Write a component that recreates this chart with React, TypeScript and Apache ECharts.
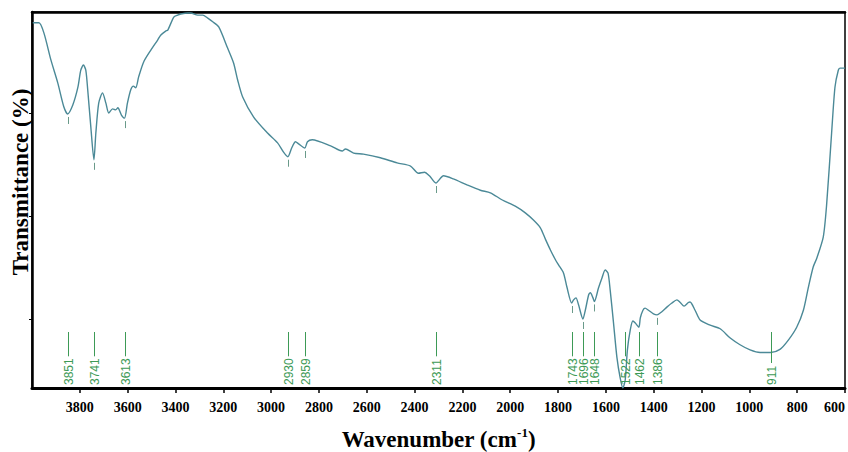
import React, { useEffect, useRef } from 'react';
import * as echarts from 'echarts';

const WAVENUMBER = [
  3997, 3971, 3950, 3921, 3892, 3867, 3851, 3829, 3808, 3796,
  3785, 3775, 3767, 3754, 3741, 3733, 3721, 3705, 3691, 3679,
  3663, 3650, 3641, 3626, 3613, 3601, 3587, 3576, 3566, 3554,
  3533, 3503, 3474, 3462, 3441, 3432, 3407, 3391, 3378, 3349,
  3336, 3307, 3286, 3265, 3244, 3219, 3182, 3157, 3140, 3119,
  3073, 3015, 2973, 2948, 2930, 2914, 2898, 2885, 2859, 2848,
  2828, 2751, 2703, 2689, 2655, 2614, 2543, 2473, 2417, 2384,
  2359, 2338, 2311, 2279, 2238, 2179, 2125, 2083, 2033, 1979,
  1937, 1903, 1874, 1853, 1832, 1811, 1798, 1777, 1763, 1743,
  1735, 1725, 1714, 1696, 1686, 1672, 1665, 1654, 1648, 1631,
  1616, 1603, 1591, 1582, 1568, 1554, 1540, 1529, 1519, 1510,
  1498, 1487, 1477, 1462, 1456, 1445, 1436, 1422, 1401, 1386,
  1366, 1345, 1324, 1303, 1289, 1273, 1255, 1248, 1227, 1206,
  1164, 1122, 1080, 1039, 997, 955, 911, 872, 837, 802,
  774, 753, 733, 718, 691, 677, 656, 642, 628, 621,
  600,
];

const TRANSMITTANCE = [
  77.5, 77.5, 75.5, 70.3, 65.8, 61.2, 59.8, 61.6, 65.0, 68.3,
  69.3, 68.3, 64.5, 57.3, 50.9, 56.1, 61.9, 63.9, 61.9, 60.0,
  60.8, 60.6, 61.0, 59.6, 59.0, 61.9, 64.5, 65.2, 64.9, 67.0,
  69.9, 72.2, 74.2, 75.1, 75.9, 76.1, 78.6, 79.0, 79.2, 79.4,
  79.4, 79.0, 79.0, 78.4, 77.7, 76.7, 72.6, 69.7, 66.4, 63.1,
  59.2, 56.1, 54.2, 52.4, 51.5, 53.2, 54.4, 54.0, 53.2, 54.4,
  54.8, 53.6, 52.6, 53.0, 52.2, 52.0, 51.3, 50.3, 49.7, 48.3,
  48.5, 47.8, 46.4, 47.8, 47.2, 46.0, 45.0, 44.5, 43.1, 41.9,
  40.6, 39.2, 37.7, 35.5, 33.4, 31.5, 30.5, 28.9, 26.2, 23.1,
  23.7, 24.1, 22.7, 20.0, 21.7, 24.7, 25.1, 24.1, 23.4, 26.0,
  28.0, 29.5, 28.9, 25.6, 19.2, 12.6, 8.5, 6.6, 8.2, 14.0,
  17.9, 19.6, 19.2, 18.4, 20.2, 21.7, 22.1, 21.7, 21.0, 20.8,
  21.4, 22.3, 23.1, 23.7, 23.2, 22.5, 23.2, 23.3, 21.7, 19.8,
  18.8, 18.1, 16.3, 15.0, 14.0, 13.5, 13.5, 14.1, 15.9, 18.4,
  21.7, 26.2, 30.1, 31.8, 35.9, 42.1, 56.1, 65.0, 68.3, 68.7,
  68.7,
];

const PEAKS = [3851, 3741, 3613, 2930, 2859, 2311, 1743, 1696, 1648, 1522, 1462, 1386, 911];
const PEAK_LABELS = PEAKS.map((p) => String(p));

const Y_TICKS = [20, 40, 60];
const X_MIN = 600;
const X_MAX = 4000;
const Y_MIN = 6.6;
const Y_MAX = 79.6;

const CURVE_COLOR = '#4b8997';
const PEAK_COLOR = '#3d9a56';

function valueAt(wn: number): number {
  for (let i = 0; i < WAVENUMBER.length - 1; i++) {
    const a = WAVENUMBER[i];
    const b = WAVENUMBER[i + 1];
    if (wn <= a && wn >= b) {
      const t = a === b ? 0 : (a - wn) / (a - b);
      return TRANSMITTANCE[i] + (TRANSMITTANCE[i + 1] - TRANSMITTANCE[i]) * t;
    }
  }
  return TRANSMITTANCE[TRANSMITTANCE.length - 1];
}

export default function App() {
  const ref = useRef<HTMLDivElement>(null);

  useEffect(() => {
    if (!ref.current) return;
    const chart = echarts.init(ref.current, null, { renderer: 'svg' });

    const curve = WAVENUMBER.map((w, i) => [w, TRANSMITTANCE[i]]);
    const peakData = PEAKS.map((w, i) => [w, valueAt(w), i]);

    const option: any = {
      animation: false,
      backgroundColor: '#ffffff',
      grid: {
        left: 32,
        right: 3,
        top: 12,
        bottom: 64,
        show: true,
        containLabel: false,
        outerBoundsMode: 'none',
        borderColor: '#000',
        borderWidth: 1.5,
        backgroundColor: 'transparent',
      },
      xAxis: [
        {
          type: 'value',
          inverse: true,
          min: X_MIN,
          max: X_MAX,
          interval: 200,
          position: 'bottom',
          name: '{a|Wavenumber (cm}{b|-1}{a|)}',
          nameLocation: 'middle',
          nameGap: 38,
          nameTextStyle: {
            rich: {
              a: {
                fontFamily: 'Liberation Serif',
                fontWeight: 'bold',
                fontSize: 23,
                color: '#000',
                lineHeight: 26,
              },
              b: {
                fontFamily: 'Liberation Serif',
                fontWeight: 'bold',
                fontSize: 13,
                color: '#000',
                verticalAlign: 'top',
                lineHeight: 26,
                padding: [0, 0, 10, 0],
              },
            },
          },
          axisLine: { show: true, onZero: false, lineStyle: { color: '#000', width: 3 } },
          axisTick: { show: true, inside: false, length: 5, lineStyle: { color: '#000', width: 1.5 } },
          axisLabel: {
            show: true,
            margin: 12,
            fontFamily: 'Liberation Serif',
            fontWeight: 'bold',
            fontSize: 14,
            color: '#000',
            showMaxLabel: false,
            alignMinLabel: 'right',
            formatter: (v: number) => (v >= X_MAX ? '' : String(v)),
          },
          splitLine: { show: false },
        },
        {
          type: 'value',
          inverse: true,
          min: X_MIN,
          max: X_MAX,
          interval: 200,
          position: 'top',
          axisLine: { show: true, onZero: false, lineStyle: { color: '#000', width: 2.5 } },
          axisTick: { show: false },
          axisLabel: { show: false },
          splitLine: { show: false },
        },
      ],
      yAxis: {
        type: 'value',
        min: Y_MIN,
        max: Y_MAX,
        axisLine: { show: true, onZero: false, lineStyle: { color: '#000', width: 2.5 } },
        axisTick: {
          show: true,
          inside: false,
          length: 3,
          customValues: Y_TICKS,
          lineStyle: { color: '#000', width: 1 },
        },
        axisLabel: { show: false, customValues: Y_TICKS },
        splitLine: { show: false },
      },
      graphic: [
        {
          type: 'text',
          x: 20,
          y: 182,
          rotation: Math.PI / 2,
          style: {
            text: 'Transmittance (%)',
            fill: '#000',
            font: 'bold 23px "Liberation Serif"',
            align: 'center',
            verticalAlign: 'middle',
          },
        },
      ],
      series: [
        {
          type: 'line',
          data: curve,
          showSymbol: false,
          symbol: 'none',
          smooth: 0.25,
          lineStyle: { color: CURVE_COLOR, width: 1.4 },
          z: 3,
        },
        {
          type: 'custom',
          data: peakData,
          z: 4,
          renderItem: (params: any, api: any) => {
            const wn = api.value(0);
            const t = api.value(1);
            const idx = api.value(2);
            const label = PEAK_LABELS[idx];
            const pt = api.coord([wn, t]);
            const base = api.coord([wn, Y_MIN]);
            const x = Math.round(pt[0]) + 0.5;
            const bottom = base[1];
            const textBottom = bottom - 3;
            const textLen = label.length * 6.67;
            const textTop = textBottom - textLen;
            const lineTop = bottom - 56;
            const lineBottom = textTop - 2;
            const children: any[] = [
              {
                type: 'line',
                shape: { x1: x, y1: lineTop, x2: x, y2: lineBottom },
                style: { stroke: PEAK_COLOR, lineWidth: 1 },
              },
              {
                type: 'text',
                x: x,
                y: textBottom,
                rotation: Math.PI / 2,
                style: {
                  text: label,
                  fill: PEAK_COLOR,
                  font: '12px "Liberation Sans"',
                  align: 'left',
                  verticalAlign: 'middle',
                },
              },
            ];
            if (pt[1] + 10 < lineTop) {
              children.push({
                type: 'line',
                shape: { x1: x, y1: pt[1] + 3, x2: x, y2: pt[1] + 10 },
                style: { stroke: '#6a9a8a', lineWidth: 1 },
              });
            }
            return { type: 'group', children };
          },
        },
      ],
    };

    chart.setOption(option);
    return () => chart.dispose();
  }, []);

  return (
    <div
      ref={ref}
      style={{ position: 'fixed', left: 0, top: 0, width: 848, height: 452, background: '#fff' }}
    />
  );
}
